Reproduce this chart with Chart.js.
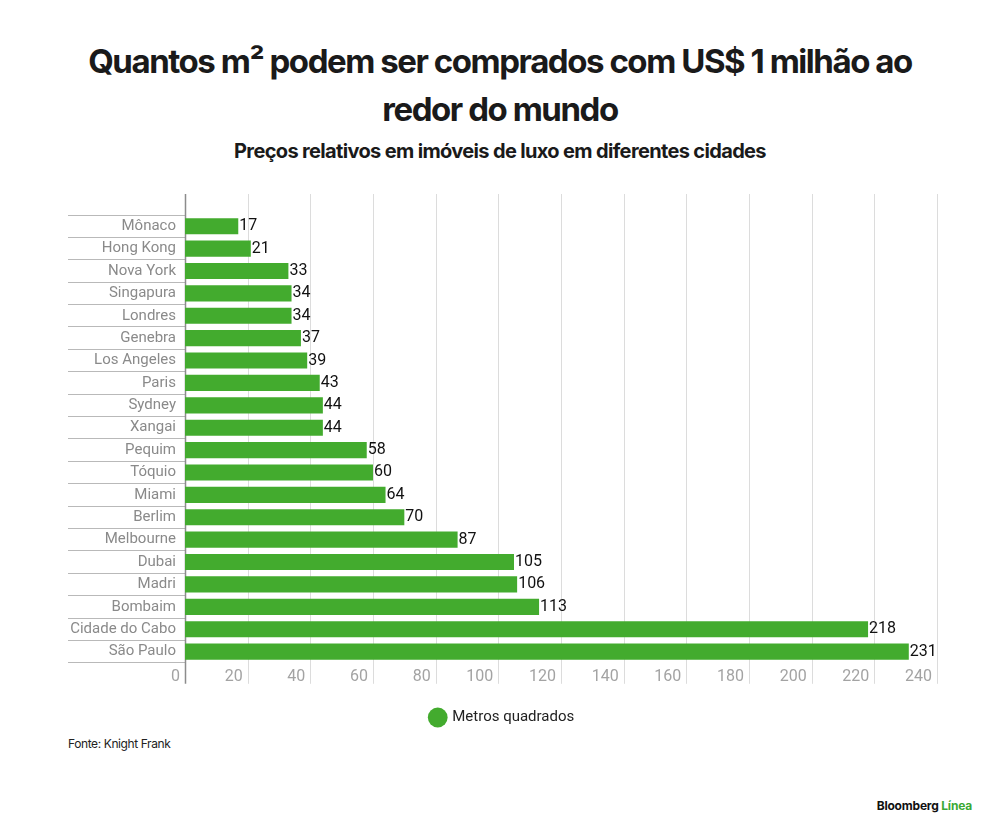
<!DOCTYPE html>
<html lang="pt">
<head>
    <meta charset="UTF-8">
    <title>Quantos m² podem ser comprados com US$ 1 milhão</title>
    <script src="https://cdn.jsdelivr.net/npm/chart.js"></script>
    <style>
        html, body { margin: 0; padding: 0; background: #fff; }
        body { width: 1000px; height: 834px; position: relative; overflow: hidden; font-family: Inter, "Noto Sans", sans-serif; }
        .title { position: absolute; top: 37px; left: 0; width: 1000px; text-align: center; font-size: 33px; font-weight: 700; letter-spacing: -1.45px; line-height: 48px; color: #1a1a1a; }
        .subtitle { position: absolute; top: 139px; left: 0; width: 1000px; text-align: center; font-size: 20px; font-weight: 700; letter-spacing: -0.65px; color: #1a1a1a; }
        .chart-box { position: absolute; left: 60px; top: 185px; width: 885px; height: 550px; }
        .source { position: absolute; left: 68px; top: 736px; font-size: 12px; letter-spacing: -0.4px; color: #222; }
        .brand { position: absolute; right: 28px; top: 798px; font-size: 12px; font-weight: 700; letter-spacing: -0.2px; color: #111; }
        .brand span { color: #3aa935; }
    </style>
</head>
<body>
    <div class="title">Quantos m² podem ser comprados com US$ 1 milhão ao<br>redor do mundo</div>
    <div class="subtitle">Preços relativos em imóveis de luxo em diferentes cidades</div>
    <div class="chart-box"><canvas id="sqmChart"></canvas></div>
    <div class="source">Fonte: Knight Frank</div>
    <div class="brand">Bloomberg <span>Línea</span></div>
    <script>
        const cities = ['Mônaco', 'Hong Kong', 'Nova York', 'Singapura', 'Londres', 'Genebra', 'Los Angeles',
            'Paris', 'Sydney', 'Xangai', 'Pequim', 'Tóquio', 'Miami', 'Berlim', 'Melbourne', 'Dubai',
            'Madri', 'Bombaim', 'Cidade do Cabo', 'São Paulo'];
        const squareMeters = [17, 21, 33, 34, 34, 37, 39, 43, 44, 44, 58, 60, 64, 70, 87, 105, 106, 113, 218, 231];
        const seriesName = 'Metros quadrados';

        const green = '#43ab2e';

        // vertical grid lines that run past the plot top and bottom
        const gridPlugin = {
            id: 'longGrid',
            beforeDatasetsDraw(chart) {
                const { ctx, chartArea, scales } = chart;
                const x = scales.x;
                ctx.save();
                x.ticks.forEach(t => {
                    const px = Math.round(x.getPixelForValue(t.value)) + 0.5;
                    ctx.strokeStyle = t.value === 0 ? '#8c8c8c' : '#dcdcdc';
                    ctx.lineWidth = t.value === 0 ? 1.5 : 1;
                    ctx.beginPath();
                    ctx.moveTo(px, chartArea.top - 21);
                    ctx.lineTo(px, chartArea.bottom + 21);
                    ctx.stroke();
                });
                ctx.restore();
            }
        };

        const valueLabels = {
            id: 'valueLabels',
            afterDatasetsDraw(chart) {
                const { ctx } = chart;
                const meta = chart.getDatasetMeta(0);
                ctx.save();
                ctx.font = '16px Roboto, sans-serif';
                ctx.fillStyle = '#111';
                ctx.textAlign = 'left';
                ctx.textBaseline = 'middle';
                meta.data.forEach((bar, i) => {
                    ctx.fillText(squareMeters[i], bar.x + 1, bar.y);
                });
                ctx.restore();
            }
        };

        new Chart(document.getElementById('sqmChart'), {
            type: 'bar',
            data: {
                labels: cities,
                datasets: [{
                    label: seriesName,
                    data: squareMeters,
                    backgroundColor: green,
                    borderWidth: 0,
                    categoryPercentage: 1,
                    barPercentage: 0.72
                }]
            },
            options: {
                indexAxis: 'y',
                responsive: true,
                maintainAspectRatio: false,
                animation: false,
                layout: { padding: { left: 8, right: 8, top: 30, bottom: 0 } },
                scales: {
                    x: {
                        min: 0,
                        max: 240,
                        grid: { display: false, drawTicks: false },
                        border: { display: false },
                        ticks: {
                            stepSize: 20,
                            align: 'end',
                            labelOffset: -5,
                            padding: 5,
                            color: '#a3a3a3',
                            font: { family: 'Roboto', size: 16 }
                        }
                    },
                    y: {
                        grid: {
                            display: true,
                            drawOnChartArea: false,
                            drawTicks: true,
                            tickLength: 117,
                            color: '#b9b9b9',
                            offset: true
                        },
                        border: { display: false },
                        ticks: {
                            padding: -108,
                            color: '#8a8a8a',
                            font: { family: 'Roboto', size: 15 }
                        },
                        afterFit(scale) { scale.width = 117; }
                    }
                },
                plugins: {
                    legend: {
                        position: 'bottom',
                        labels: {
                            usePointStyle: true,
                            pointStyle: 'circle',
                            boxWidth: 14,
                            boxHeight: 14,
                            padding: 18,
                            color: '#222',
                            font: { family: 'Roboto', size: 15 }
                        }
                    },
                    tooltip: { enabled: false }
                }
            },
            plugins: [gridPlugin, valueLabels]
        });
    </script>
</body>
</html>
